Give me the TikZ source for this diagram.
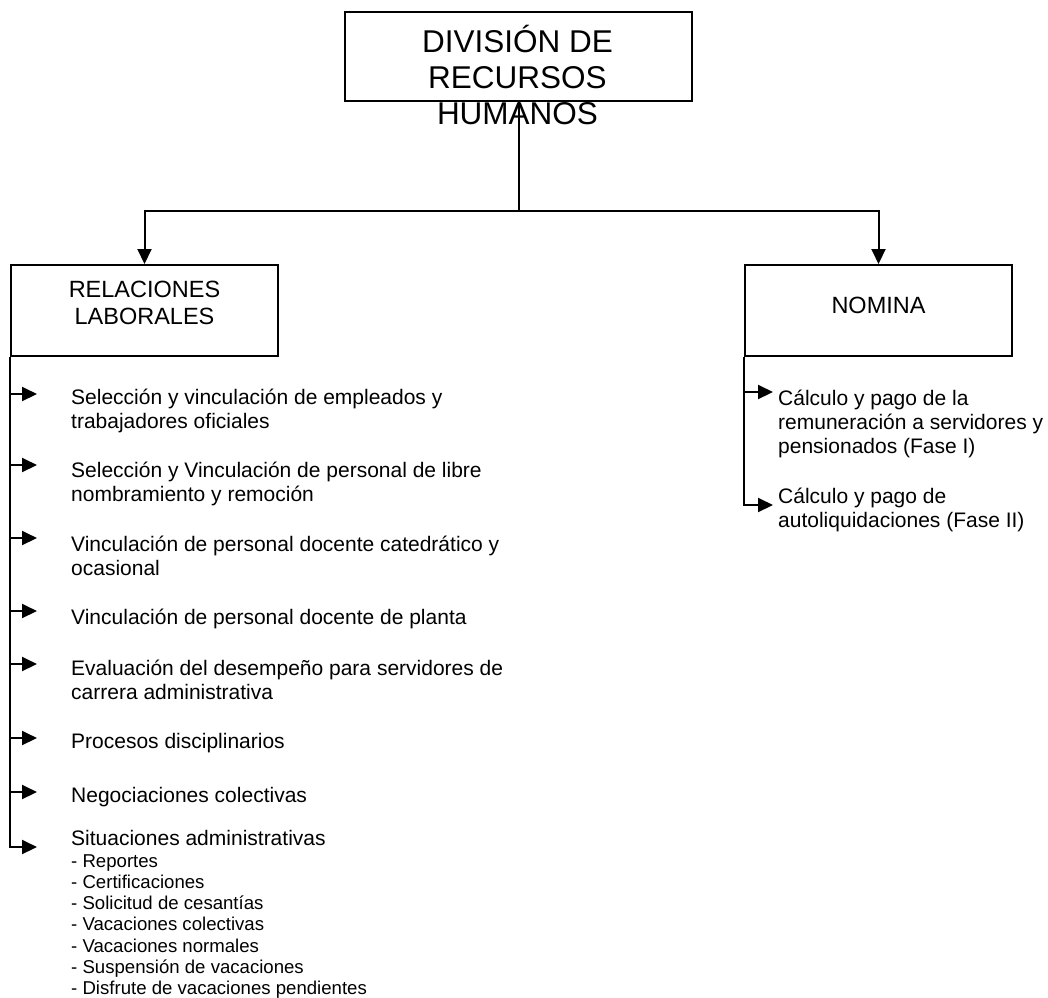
\documentclass[tikz,border=0pt]{standalone}
\usepackage{fontspec}
\setmainfont{Liberation Sans}
\usetikzlibrary{arrows.meta}

\tikzset{
  conn/.style={line width=2pt},
  arr/.style={conn, -{Triangle[length=15pt,width=14pt]}},
  unitbox/.style={draw, line width=2pt, inner sep=0pt, minimum width=267pt, minimum height=91pt},
  titletext/.style={inner sep=0pt, anchor=base, font=\fontsize{31.5}{36.2}\selectfont},
  unittext/.style={inner sep=0pt, anchor=base, font=\fontsize{23.5}{27.6}\selectfont},
  itemtext/.style={inner sep=0pt, anchor=base west, font=\fontsize{21}{24.4}\selectfont},
  subtext/.style={inner sep=0pt, anchor=base west, font=\fontsize{18.6}{21.3}\selectfont}
}
\newcommand{\lines}[2][l]{\begin{tabular}[t]{@{}#1@{}}#2\end{tabular}}

\begin{document}
\begin{tikzpicture}[x=1pt,y=-1pt]
\useasboundingbox (0,0) rectangle (1048,997);

% head of the division
\node[draw, line width=2pt, inner sep=0pt, minimum width=347pt, minimum height=89pt] (top) at (518.5,56.5) {};
\node[titletext] (toptxt) at (517.5,52) {\lines[c]{DIVISIÓN DE\\RECURSOS\\HUMANOS}};

% the two units
\node[unitbox] (rel) at (144.5,310.5) {};
\node[unittext] (reltxt) at (144.5,297) {\lines[c]{RELACIONES\\LABORALES}};
\node[unitbox] (nom) at (878.5,310.5) {};
\node[unittext] (nomtxt) at (878.5,313) {NOMINA};

% branching from the head to the units
\coordinate (j) at (518.5,211);
\draw[conn] (top.south) -- (j);
\draw[arr] (j) -| (rel.north);
\draw[arr] (j) -| (nom.north);

% processes of Relaciones Laborales
\node[itemtext] (i1) at (71,404) {\lines{Selección y vinculación de empleados y\\trabajadores oficiales}};
\node[itemtext] (i2) at (71,477) {\lines{Selección y Vinculación de personal de libre\\nombramiento y remoción}};
\node[itemtext] (i3) at (71,551) {\lines{Vinculación de personal docente catedrático y\\ocasional}};
\node[itemtext] (i4) at (71,624) {Vinculación de personal docente de planta};
\node[itemtext] (i5) at (71,675) {\lines{Evaluación del desempeño para servidores de\\carrera administrativa}};
\node[itemtext] (i6) at (71,748) {Procesos disciplinarios};
\node[itemtext] (i7) at (71,802) {Negociaciones colectivas};
\node[itemtext] (i8) at (71,845) {Situaciones administrativas};
\node[subtext] (i8sub) at (71,867) {\lines{- Reportes\\- Certificaciones\\- Solicitud de cesantías\\- Vacaciones colectivas\\- Vacaciones normales\\- Suspensión de vacaciones\\- Disfrute de vacaciones pendientes}};

\coordinate (a1) at (37,394);
\coordinate (a2) at (37,465);
\coordinate (a3) at (37,538);
\coordinate (a4) at (37,611);
\coordinate (a5) at (37,664);
\coordinate (a6) at (37,738);
\coordinate (a7) at (37,792);
\coordinate (a8) at (37,847);
\draw[arr] (rel.south west) |- (a8);
\foreach \k in {1,...,7} {
  \draw[arr] (rel.west |- a\k) -- (a\k);
}

% processes of Nomina
\node[itemtext] (n1) at (778,405) {\lines{Cálculo y pago de la\\remuneración a servidores y\\pensionados (Fase I)}};
\node[itemtext] (n2) at (778,503) {\lines{Cálculo y pago de\\autoliquidaciones (Fase II)}};
\coordinate (b1) at (773,392);
\coordinate (b2) at (773,505);
\draw[arr] (nom.south west) |- (b2);
\draw[arr] (nom.west |- b1) -- (b1);

\end{tikzpicture}
\end{document}
